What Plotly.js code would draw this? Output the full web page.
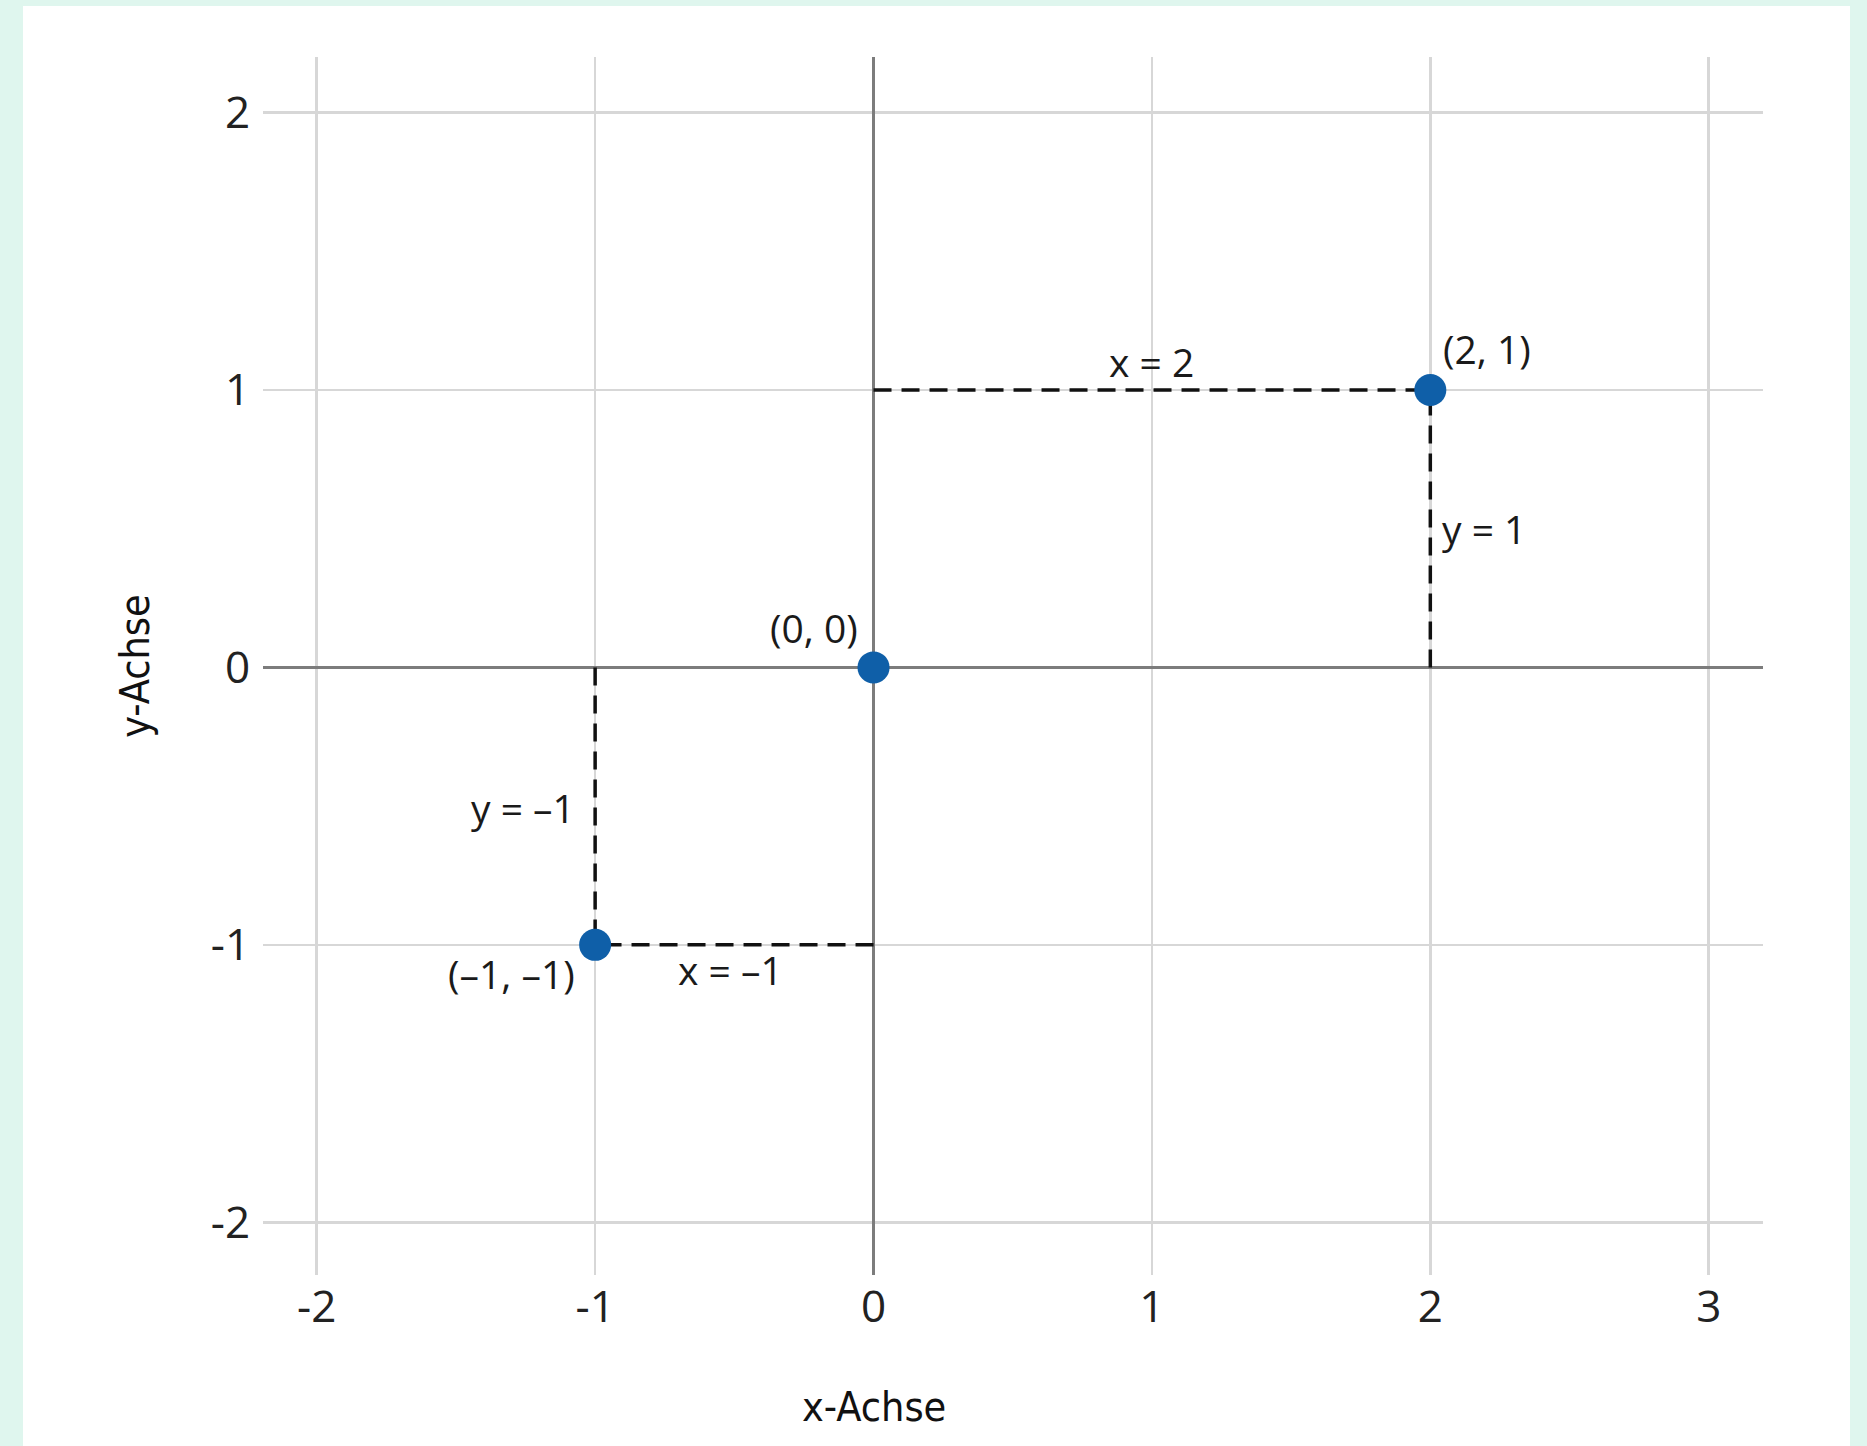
<!DOCTYPE html>
<html>
<head>
<meta charset="utf-8">
<script src="https://cdn.plot.ly/plotly-3.0.1.min.js"></script>
<style>
  html, body { margin: 0; padding: 0; background: #dff6ee; width: 1867px; height: 1446px; overflow: hidden; }
  #chart { position: absolute; left: 23px; top: 6px; width: 1827px; height: 1440px; background: #ffffff; }
</style>
</head>
<body>
<div id="chart"></div>
<script>
// ---- data ----
const pointX = [2, 0, -1];
const pointY = [1, 0, -1];
const pointLabels = ["(2, 1)", "(0, 0)", "(\u20131, \u20131)"];

const xTickVals = [-2, -1, 0, 1, 2, 3];
const xTickText = ["-2", "-1", "0", "1", "2", "3"];
const yTickVals = [-2, -1, 0, 1, 2];
const yTickText = ["-2", "-1", "0", "1", "2"];

const xTitle = "x-Achse";
const yTitle = "y-Achse";

// guide labels for the coordinates
const guideText = ["x = 2", "y = 1", "y = \u20131", "x = \u20131"];

// ---- styles ----
const tickFamily = "'Open Sans', 'Noto Sans', sans-serif";
const labelFont = "'Open Sans', 'Noto Sans', sans-serif";
const dashStyle = { color: "#111111", width: 3.5, dash: "18px,10px" };
const titleFont = { family: "'DejaVu Sans Condensed', 'DejaVu Sans', sans-serif", size: 41, color: "#111111", stretch: "condensed" };

// dashed projection lines derived from the points (skip origin)
const traces = [];
pointX.forEach((px, i) => {
  const py = pointY[i];
  if (px === 0 && py === 0) return;
  traces.push({ x: [0, px], y: [py, py], mode: "lines", line: dashStyle, hoverinfo: "skip", showlegend: false });
  traces.push({ x: [px, px], y: [0, py], mode: "lines", line: dashStyle, hoverinfo: "skip", showlegend: false });
});
traces.push({
  x: pointX, y: pointY, mode: "markers",
  marker: { color: "#0f5fa8", size: 32 },
  hoverinfo: "skip", showlegend: false
});

const annFont = { family: labelFont, size: 39, color: "#1a1a1a" };
const annotations = [
  { x: 2.04, y: 1.15, text: pointLabels[0], xanchor: "left", yanchor: "middle" },
  { x: -0.05, y: 0.145, text: pointLabels[1], xanchor: "right", yanchor: "middle" },
  { x: -1.065, y: -1.105, text: pointLabels[2], xanchor: "right", yanchor: "middle" },
  { x: 1.0, y: 1.0, text: guideText[0], xanchor: "center", yanchor: "bottom", yshift: 0 },
  { x: 2.035, y: 0.50, text: guideText[1], xanchor: "left", yanchor: "middle" },
  { x: -1.065, y: -0.505, text: guideText[2], xanchor: "right", yanchor: "middle" },
  { x: -0.514, y: -1.09, text: guideText[3], xanchor: "center", yanchor: "middle" }
].map(a => Object.assign({ xref: "x", yref: "y", showarrow: false, font: annFont }, a));

// x-axis title sits under x = 0 in the reference
annotations.push({
  xref: "x", yref: "paper", x: 0, y: 0, yshift: -132,
  xanchor: "center", yanchor: "middle", showarrow: false,
  text: xTitle, font: titleFont
});

const axisCommon = {
  tickmode: "array",
  showline: false,
  showgrid: true,
  gridcolor: "#d7d7d7",
  gridwidth: 2.5,
  zeroline: true,
  zerolinecolor: "#7c7c7c",
  zerolinewidth: 2.5,
  tickcolor: "rgba(0,0,0,0)",
  tickfont: { family: tickFamily, size: 44, color: "#222222" },
  fixedrange: true
};

const layout = {
  width: 1827,
  height: 1440,
  paper_bgcolor: "#ffffff",
  plot_bgcolor: "#ffffff",
  margin: { l: 240, r: 87, t: 51, b: 171 },
  showlegend: false,
  hovermode: false,
  xaxis: Object.assign({}, axisCommon, {
    range: [-2.193, 3.195],
    ticks: "",
    ticklabelstandoff: 2,
    tickvals: xTickVals, ticktext: xTickText
  }),
  yaxis: Object.assign({}, axisCommon, {
    range: [-2.19, 2.2],
    ticks: "outside",
    ticklen: 3,
    tickvals: yTickVals, ticktext: yTickText,
    title: { text: yTitle, font: titleFont, standoff: 48 }
  }),
  annotations: annotations
};

Plotly.newPlot("chart", traces, layout, { displayModeBar: false, staticPlot: true });
</script>
</body>
</html>
